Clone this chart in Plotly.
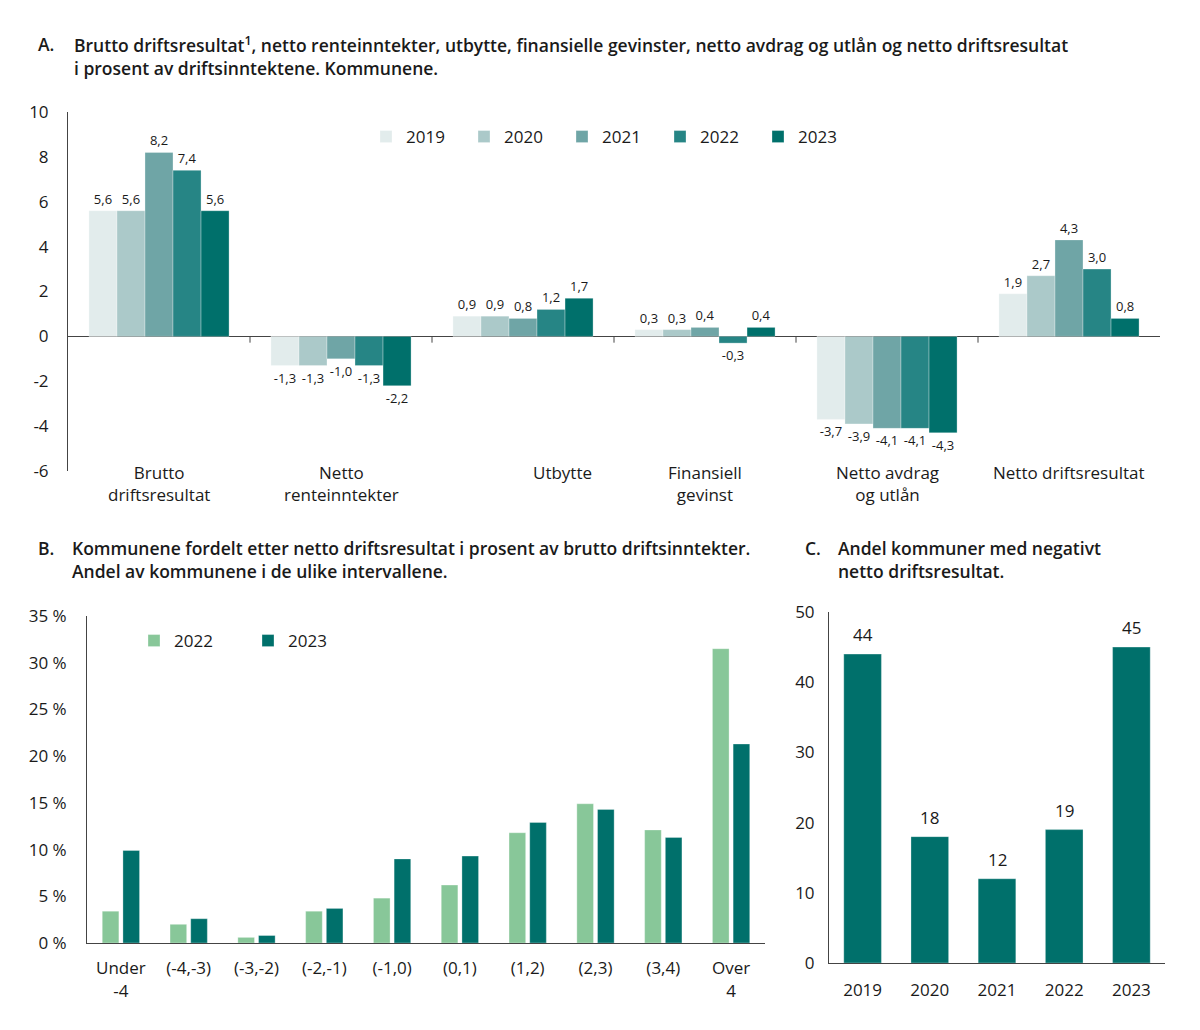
import plotly.graph_objects as go

FONT = "Open Sans"
TXT = "#1a1a1a"
AX = "#444444"

# ---------- Data ----------
a_categories = ["Brutto<br>driftsresultat", "Netto<br>renteinntekter", "Utbytte",
                "Finansiell<br>gevinst", "Netto avdrag<br>og utlån", "Netto driftsresultat"]
a_years = ["2019", "2020", "2021", "2022", "2023"]
a_2019 = [5.6, -1.3, 0.9, 0.3, -3.7, 1.9]
a_2020 = [5.6, -1.3, 0.9, 0.3, -3.9, 2.7]
a_2021 = [8.2, -1.0, 0.8, 0.4, -4.1, 4.3]
a_2022 = [7.4, -1.3, 1.2, -0.3, -4.1, 3.0]
a_2023 = [5.6, -2.2, 1.7, 0.4, -4.3, 0.8]
a_colors = ["#e2ecec", "#abc9c9", "#6fa5a6", "#268585", "#00706b"]
a_yticks = [-6, -4, -2, 0, 2, 4, 6, 8, 10]

b_categories = ["Under<br>-4", "(-4,-3)", "(-3,-2)", "(-2,-1)", "(-1,0)",
                "(0,1)", "(1,2)", "(2,3)", "(3,4)", "Over<br>4"]
b_2022 = [3.4, 2.0, 0.6, 3.4, 4.8, 6.2, 11.8, 14.9, 12.1, 31.5]
b_2023 = [9.9, 2.6, 0.8, 3.7, 9.0, 9.3, 12.9, 14.3, 11.3, 21.3]
b_yticks = [0, 5, 10, 15, 20, 25, 30, 35]

c_years = ["2019", "2020", "2021", "2022", "2023"]
c_values = [44, 18, 12, 19, 45]
c_yticks = [0, 10, 20, 30, 40, 50]

W, H = 1200, 1030
def px_x(v): return v / W
def px_y(v): return 1 - v / H

def fmt(v):
    return f"{v:.1f}".replace(".", ",")

fig = go.Figure()

# ---------- Panel A ----------
a_series = [a_2019, a_2020, a_2021, a_2022, a_2023]
bw = 0.154
for i, (yr, vals, col) in enumerate(zip(a_years, a_series, a_colors)):
    fig.add_trace(go.Bar(
        x=list(range(len(a_categories))), y=vals, name=yr,
        marker=dict(color=col, line=dict(color="rgba(255,255,255,0.6)", width=0.5)),
        width=bw, offset=-2.5 * bw + i * bw,
        text=[fmt(v) for v in vals], textposition="outside",
        textfont=dict(family=FONT, size=13, color=TXT),
        cliponaxis=False, xaxis="x", yaxis="y", legend="legend",
    ))

# ---------- Panel B ----------
b_cols = ["#88c799", "#00706b"]
bbw = 0.245
bgap = 0.06
for i, (yr, vals, col) in enumerate(zip(["2022", "2023"], [b_2022, b_2023], b_cols)):
    fig.add_trace(go.Bar(
        x=list(range(len(b_categories))), y=vals, name=yr,
        marker=dict(color=col, line=dict(color="rgba(255,255,255,0.6)", width=0.5)),
        width=bbw, offset=(-bbw - bgap / 2) if i == 0 else bgap / 2,
        xaxis="x2", yaxis="y2", legend="legend2",
    ))

# ---------- Panel C ----------
fig.add_trace(go.Bar(
    x=list(range(len(c_years))), y=c_values, name="C",
    marker=dict(color="#00706b", line=dict(color="rgba(255,255,255,0.6)", width=0.5)),
    width=0.56, showlegend=False, xaxis="x3", yaxis="y3",
))

axis_font = dict(family=FONT, size=17, color=TXT)

common = dict(automargin=False, showgrid=False)

fig.update_layout(
    template="none",
    width=W, height=H, margin=dict(l=0, r=0, t=0, b=0, autoexpand=False),
    paper_bgcolor="white", plot_bgcolor="white",
    font=dict(family=FONT, size=17, color=TXT),
    barmode="group",
    # Panel A axes
    xaxis=dict(domain=[px_x(68), px_x(1160)], range=[-0.5, 5.5], anchor="y",
               showticklabels=False, showline=False, zeroline=False, ticks="", **common),
    yaxis=dict(domain=[px_y(471), px_y(112)], range=[-6, 10], anchor="x",
               tickvals=a_yticks, ticktext=[str(v) for v in a_yticks], tickfont=axis_font,
               showline=True, linecolor=AX, linewidth=1,
               zeroline=True, zerolinecolor=AX, zerolinewidth=1, ticks="",
               ticklabelstandoff=15, **common),
    # Panel B axes
    xaxis2=dict(domain=[px_x(87), px_x(765)], range=[-0.5, 9.5], anchor="y2",
                tickvals=list(range(len(b_categories))), ticktext=b_categories,
                tickfont=axis_font, showline=True, linecolor=AX, linewidth=1,
                zeroline=False, ticks="", ticklabelstandoff=10, **common),
    yaxis2=dict(domain=[px_y(943), px_y(616)], range=[0, 35], anchor="x2",
                tickvals=b_yticks, ticktext=[f"{v} %" for v in b_yticks], tickfont=axis_font,
                showline=True, linecolor=AX, linewidth=1, zeroline=False,
                ticks="", ticklabelstandoff=16, **common),
    # Panel C axes
    xaxis3=dict(domain=[px_x(829), px_x(1165)], range=[-0.5, 4.5], anchor="y3",
                tickvals=list(range(len(c_years))), ticktext=c_years,
                tickfont=axis_font, showline=True, linecolor=AX, linewidth=1,
                zeroline=False, ticks="", ticklabelstandoff=12, **common),
    yaxis3=dict(domain=[px_y(963), px_y(612)], range=[0, 50], anchor="x3",
                tickvals=c_yticks, ticktext=[str(v) for v in c_yticks], tickfont=axis_font,
                showline=True, linecolor=AX, linewidth=1, zeroline=False,
                ticks="", ticklabelstandoff=10, **common),
    legend=dict(orientation="h", x=px_x(366), y=px_y(137), xanchor="left", yanchor="middle",
                font=dict(family=FONT, size=17, color=TXT), bgcolor="rgba(0,0,0,0)",
                entrywidth=53, entrywidthmode="pixels", traceorder="normal"),
    legend2=dict(orientation="h", x=px_x(134), y=px_y(641), xanchor="left", yanchor="middle",
                 font=dict(family=FONT, size=17, color=TXT), bgcolor="rgba(0,0,0,0)",
                 entrywidth=69, entrywidthmode="pixels", traceorder="normal"),
)

# Tick marks on the zero line of panel A (category boundaries)
for b in [0.5, 1.5, 2.5, 3.5, 4.5]:
    fig.add_shape(type="line", xref="x", yref="y", x0=b, x1=b, y0=0, y1=-0.28,
                  line=dict(color=AX, width=1))

annots = []
# Panel A category labels
for i, cat in enumerate(a_categories):
    shift = 39 if cat == "Utbytte" else 0
    annots.append(dict(xref="x", yref="paper", x=i, y=px_y(459), xanchor="center",
                       yanchor="top", text=cat, showarrow=False, xshift=shift,
                       font=axis_font))
# Panel C value labels
for i, v in enumerate(c_values):
    annots.append(dict(xref="x3", yref="y3", x=i, y=v, yanchor="bottom", yshift=6,
                       text=str(v), showarrow=False, font=axis_font))

title_font = dict(family=FONT, size=17.5, color=TXT, weight=600)
titles = [
    (36, 30, "A."),
    (72, 30, "Brutto driftsresultat<sup>1</sup>, netto renteinntekter, utbytte, finansielle gevinster, netto avdrag og utlån og netto driftsresultat<br>i prosent av driftsinntektene. Kommunene."),
    (36, 534, "B."),
    (70, 534, "Kommunene fordelt etter netto driftsresultat i prosent av brutto driftsinntekter.<br>Andel av kommunene i de ulike intervallene."),
    (803, 534, "C."),
    (836, 534, "Andel kommuner med negativt<br>netto driftsresultat."),
]
for x, y, t in titles:
    annots.append(dict(xref="paper", yref="paper", x=px_x(x), y=px_y(y), xanchor="left",
                       yanchor="top", align="left", text=t, showarrow=False, font=title_font))

fig.update_layout(annotations=annots)

fig.write_html("out.html", config={"displayModeBar": False},
               post_script="document.body.style.margin='0';")
